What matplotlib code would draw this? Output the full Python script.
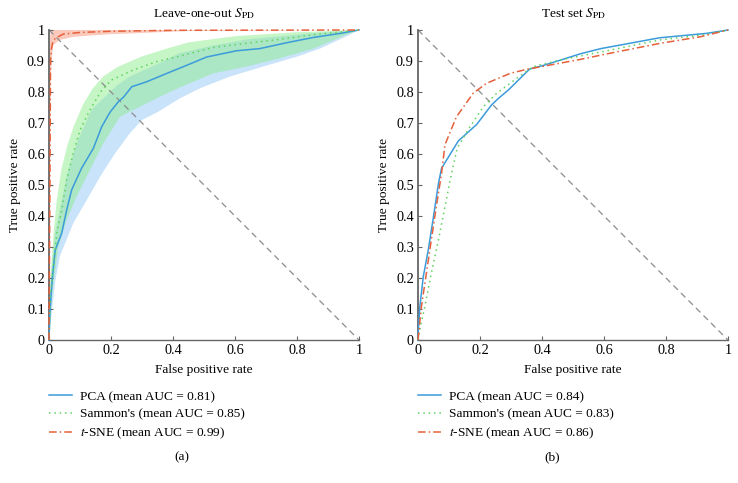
import numpy as np
import matplotlib
matplotlib.use("Agg")
import matplotlib.pyplot as plt

plt.rcParams['font.family'] = ['Liberation Serif', 'DejaVu Serif']
plt.rcParams['mathtext.fontset'] = 'stix'

# ---------------- Data: (a) Leave-one-out ----------------
loo_pca_x = [0, 0.003, 0.01, 0.02, 0.041, 0.057, 0.073, 0.105, 0.143, 0.17, 0.197, 0.224, 0.24, 0.267,
             0.315, 0.38, 0.444, 0.509, 0.605, 0.68, 0.767, 0.853, 0.939, 1.0]
loo_pca_y = [0, 0.09, 0.19, 0.29, 0.345, 0.419, 0.484, 0.554, 0.618, 0.688, 0.735, 0.769, 0.783, 0.817,
             0.833, 0.86, 0.886, 0.913, 0.933, 0.94, 0.959, 0.976, 0.989, 1.0]
loo_pca_up_x = [0, 0.005, 0.02, 0.035, 0.057, 0.089, 0.137, 0.186, 0.218, 0.26, 0.35, 0.42, 0.53, 0.64,
                0.75, 0.85, 1.0]
loo_pca_up_y = [0, 0.2, 0.35, 0.42, 0.53, 0.634, 0.742, 0.79, 0.82, 0.85, 0.89, 0.925, 0.95, 0.97,
                0.98, 0.99, 1.0]
loo_pca_lo_x = [0, 0.01, 0.02, 0.035, 0.078, 0.122, 0.165, 0.213, 0.261, 0.3, 0.35, 0.423, 0.487, 0.584,
                0.69, 0.8, 0.874, 0.96, 1.0]
loo_pca_lo_y = [0, 0.1, 0.19, 0.27, 0.376, 0.452, 0.527, 0.602, 0.667, 0.71, 0.735, 0.78, 0.812, 0.85,
                0.882, 0.914, 0.94, 0.98, 1.0]

loo_sam_x = [0, 0.005, 0.025, 0.041, 0.057, 0.078, 0.1, 0.132, 0.17, 0.202, 0.272, 0.347, 0.423, 0.53,
             0.637, 0.745, 0.853, 0.939, 1.0]
loo_sam_y = [0, 0.15, 0.344, 0.419, 0.516, 0.602, 0.677, 0.742, 0.806, 0.839, 0.871, 0.898, 0.916, 0.944,
             0.957, 0.97, 0.985, 0.993, 1.0]
loo_sam_up_x = [0, 0.005, 0.015, 0.025, 0.04, 0.06, 0.08, 0.11, 0.14, 0.175, 0.22, 0.3, 0.38, 0.45,
                0.6, 0.8, 1.0]
loo_sam_up_y = [0, 0.2, 0.35, 0.45, 0.55, 0.63, 0.69, 0.76, 0.81, 0.85, 0.88, 0.915, 0.94, 0.96,
                0.98, 0.993, 1.0]
loo_sam_lo_x = [0, 0.01, 0.03, 0.057, 0.089, 0.132, 0.175, 0.202, 0.229, 0.294, 0.358, 0.423, 0.53,
                0.637, 0.745, 0.853, 0.96, 1.0]
loo_sam_lo_y = [0, 0.15, 0.3, 0.387, 0.462, 0.548, 0.634, 0.677, 0.72, 0.753, 0.785, 0.815, 0.86,
                0.882, 0.909, 0.94, 0.985, 1.0]

loo_tsne_x = [0, 0.003, 0.005, 0.008, 0.012, 0.02, 0.046, 0.1, 0.2, 0.4, 1.0]
loo_tsne_y = [0, 0.5, 0.9, 0.94, 0.96, 0.973, 0.987, 0.992, 0.996, 0.999, 1.0]
loo_tsne_up_x = [0, 0.002, 0.005, 0.01, 1.0]
loo_tsne_up_y = [0.6, 0.95, 0.99, 1.0, 1.0]
loo_tsne_lo_x = [0, 0.004, 0.006, 0.01, 0.014, 0.035, 0.079, 0.186, 0.29, 0.45, 1.0]
loo_tsne_lo_y = [0, 0.6, 0.85, 0.92, 0.952, 0.968, 0.978, 0.986, 0.99, 0.997, 1.0]

# ---------------- Data: (b) Test set ----------------
test_pca_x = [0, 0.001, 0.006, 0.017, 0.033, 0.05, 0.066, 0.076, 0.13, 0.189, 0.237, 0.259, 0.291, 0.36,
              0.405, 0.46, 0.523, 0.59, 0.78, 0.93, 1.0]
test_pca_y = [0, 0.03, 0.108, 0.204, 0.29, 0.398, 0.505, 0.554, 0.642, 0.695, 0.758, 0.779, 0.806, 0.874,
              0.886, 0.903, 0.923, 0.94, 0.975, 0.989, 1.0]
test_sam_x = [0, 0.005, 0.022, 0.043, 0.066, 0.087, 0.108, 0.127, 0.168, 0.211, 0.254, 0.297, 0.34, 0.372,
              0.458, 0.619, 0.781, 0.93, 1.0]
test_sam_y = [0, 0.03, 0.108, 0.215, 0.323, 0.43, 0.537, 0.62, 0.688, 0.753, 0.796, 0.828, 0.86, 0.882,
              0.903, 0.935, 0.968, 0.985, 1.0]
test_tsne_x = [0, 0.011, 0.027, 0.043, 0.059, 0.076, 0.087, 0.124, 0.178, 0.221, 0.297, 0.35, 0.426, 0.523,
               0.619, 0.781, 0.91, 1.0]
test_tsne_y = [0, 0.108, 0.215, 0.323, 0.43, 0.537, 0.63, 0.72, 0.796, 0.828, 0.86, 0.873, 0.887, 0.905,
               0.925, 0.957, 0.978, 1.0]

diag_x = [0, 1]
diag_y = [1, 0]

ticks = [0, 0.1, 0.2, 0.3, 0.4, 0.5, 0.6, 0.7, 0.8, 0.9, 1.0]
ytick_labels = ['0', '0.1', '0.2', '0.3', '0.4', '0.5', '0.6', '0.7', '0.8', '0.9', '1']
xticks = [0, 0.2, 0.4, 0.6, 0.8, 1.0]
xtick_labels = ['0', '0.2', '0.4', '0.6', '0.8', '1']

titles = ['Leave-one-out $S_{\\mathrm{PD}}$', 'Test set $S_{\\mathrm{PD}}$']
labels_a = ['PCA (mean AUC = 0.81)', "Sammon's (mean AUC = 0.85)", '$t$-SNE (mean AUC = 0.99)']
labels_b = ['PCA (mean AUC = 0.84)', "Sammon's (mean AUC = 0.83)", '$t$-SNE (mean AUC = 0.86)']
captions = ['(a)', '(b)']

C_PCA = '#3b9bdb'
C_SAM = '#5fd35f'
C_TSNE = '#e5603b'
FS = 9.6

fig = plt.figure(figsize=(7.38, 4.83), dpi=100)
ax1 = fig.add_axes([49/738, 1 - 340/483, 310/738, 310/483])
ax2 = fig.add_axes([418/738, 1 - 340/483, 310/738, 310/483])


def band(ax, ux, uy, lx, ly, color, alpha):
    px = np.concatenate([np.asarray(ux), np.asarray(lx)[::-1]])
    py = np.concatenate([np.asarray(uy), np.asarray(ly)[::-1]])
    ax.fill(px, py, color=color, alpha=alpha, lw=0, zorder=1)


band(ax1, loo_pca_up_x, loo_pca_up_y, loo_pca_lo_x, loo_pca_lo_y, '#c9e3fb', 1.0)
band(ax1, loo_sam_up_x, loo_sam_up_y, loo_sam_lo_x, loo_sam_lo_y, '#8fec8f', 0.5)
band(ax1, loo_tsne_up_x, loo_tsne_up_y, loo_tsne_lo_x, loo_tsne_lo_y, '#f7a58e', 0.6)

for ax, labs, (px, py, sx, sy, tx, ty) in [
        (ax1, labels_a, (loo_pca_x, loo_pca_y, loo_sam_x, loo_sam_y, loo_tsne_x, loo_tsne_y)),
        (ax2, labels_b, (test_pca_x, test_pca_y, test_sam_x, test_sam_y, test_tsne_x, test_tsne_y))]:
    ax.plot(diag_x, diag_y, color='#8c8c8c', lw=0.9, dashes=(5, 3.5), zorder=2)
    l1, = ax.plot(px, py, color=C_PCA, lw=1.1, zorder=3, clip_on=False, label=labs[0])
    l2, = ax.plot(sx, sy, color=C_SAM, lw=1.1, ls=(0, (1, 2.5)), zorder=3, clip_on=False, label=labs[1])
    l3, = ax.plot(tx, ty, color=C_TSNE, lw=1.1, ls=(0, (5, 2, 1, 2)), zorder=4, clip_on=False, label=labs[2])
    ax.set_xlim(0, 1)
    ax.set_ylim(0, 1)
    ax.set_yticks(ticks)
    ax.set_yticklabels(ytick_labels)
    ax.set_xticks(xticks)
    ax.set_xticklabels(xtick_labels)
    for s in ['top', 'right']:
        ax.spines[s].set_visible(False)
    ax.spines['left'].set_color('#666666')
    ax.spines['bottom'].set_color('#666666')
    ax.spines['left'].set_linewidth(1.3)
    ax.spines['bottom'].set_linewidth(1.0)
    ax.tick_params(direction='in', length=3, width=0.8, color='#666666', labelsize=10.3, pad=3)
    ax.set_xlabel('False positive rate', fontsize=FS, labelpad=5)
    ax.set_ylabel('True positive rate', fontsize=FS, labelpad=4)
    ax.legend(handles=[l1, l2, l3], loc='upper left', bbox_to_anchor=(0.0, -0.163),
              frameon=False, fontsize=FS, handlelength=1.7, handletextpad=0.65,
              labelspacing=0.4, borderaxespad=0, borderpad=0)

ax1.set_title(titles[0], fontsize=FS, pad=9)
ax2.set_title(titles[1], fontsize=FS, pad=9)

fig.text(182/738, 1 - 457/483, captions[0], ha='center', va='center', fontsize=FS)
fig.text(552/738, 1 - 457/483, captions[1], ha='center', va='center', fontsize=FS)

fig.savefig('out.png', dpi=100)
